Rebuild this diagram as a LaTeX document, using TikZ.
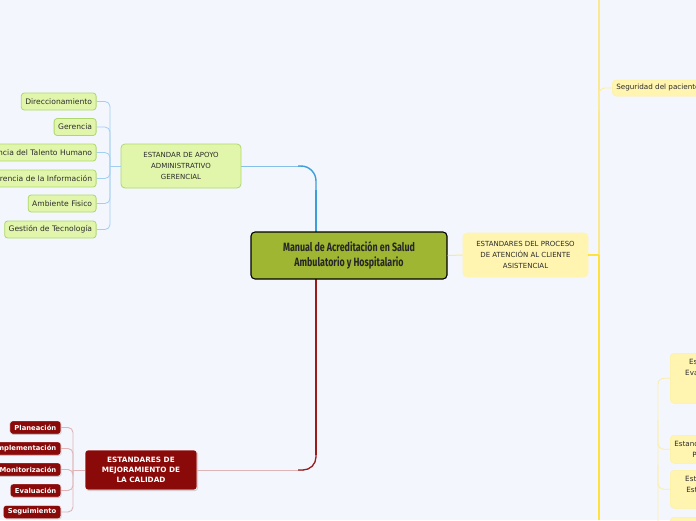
\documentclass[tikz,border=0pt]{standalone}
\usepackage{fontspec}
\setmainfont{DejaVu Sans}
\newfontfamily\condfont[FakeStretch=0.74]{Fira Sans}
\usetikzlibrary{shadows}
\definecolor{bgc}{HTML}{F3F6FD}
\definecolor{gfill}{HTML}{E1F6AB}
\definecolor{gdraw}{HTML}{AED76E}
\definecolor{cfill}{HTML}{9EB631}
\definecolor{bluec}{HTML}{3B9DDB}
\definecolor{bluel}{HTML}{A3CFEF}
\definecolor{yfill}{HTML}{FFF5B1}
\definecolor{yline}{HTML}{FFE23C}
\definecolor{ypale}{HTML}{FBE98F}
\definecolor{ylight}{HTML}{FCEEA8}
\definecolor{rfill}{HTML}{8A0A0A}
\definecolor{rline}{HTML}{9B1B1B}
\definecolor{pink}{HTML}{DFB4B7}
\definecolor{txt}{HTML}{2B2B2B}
\tikzset{
  centerbox/.style={draw=black, line width=1.1pt, fill=cfill, rounded corners=4pt,
    minimum width=196pt, minimum height=47pt, inner sep=0pt, align=center,
    font=\condfont\bfseries\fontsize{12}{15}\selectfont, text=black!85},
  gbranch/.style={draw=gdraw, line width=0.8pt, fill=gfill, rounded corners=4pt,
    minimum width=120pt, minimum height=44pt, inner sep=0pt, align=center,
    font=\fontsize{7}{11}\selectfont, text=txt},
  gchild/.style={draw=gdraw, line width=0.8pt, fill=gfill, rounded corners=3pt,
    minimum height=17pt, inner xsep=4pt, inner ysep=0pt, anchor=east,
    font=\fontsize{7.6}{9}\selectfont, text=txt},
  ybranch/.style={draw=yfill, line width=0.6pt, fill=yfill, rounded corners=4pt,
    minimum width=125pt, minimum height=44pt, inner sep=0pt, align=center,
    font=\fontsize{7}{11}\selectfont, text=txt},
  ychild/.style={draw=yfill!80!yline, line width=0.5pt, fill=yfill, rounded corners=4pt,
    inner xsep=4pt, inner ysep=0pt, align=center,
    font=\fontsize{7.2}{11}\selectfont, text=txt},
  rbranch/.style={draw=white, line width=0.6pt, fill=rfill, rounded corners=3pt,
    minimum width=112pt, minimum height=40pt, inner sep=0pt, align=center,
    font=\bfseries\fontsize{7.3}{10}\selectfont, text=white,
    drop shadow={shadow xshift=1pt, shadow yshift=-1pt, fill=black!35}},
  rchild/.style={draw=white, line width=0.4pt, fill=rfill, rounded corners=2.5pt,
    minimum height=13pt, inner xsep=4.5pt, inner ysep=0pt, anchor=east,
    font=\bfseries\fontsize{6.8}{8}\selectfont, text=white,
    drop shadow={shadow xshift=0.8pt, shadow yshift=-0.8pt, fill=black!30}},
  bthin/.style={draw=bluel, line width=0.8pt, rounded corners=5pt},
  pthin/.style={draw=pink, line width=0.9pt, rounded corners=5pt},
  ythin/.style={draw=ylight, line width=0.9pt, rounded corners=6pt},
}
\begin{document}
\begin{tikzpicture}[x=1pt,y=-1pt]
\useasboundingbox (0,0) rectangle (696,520);
\clip (0,0) rectangle (696,520);
\fill[bgc] (0,0) rectangle (696,520);

% coordinates
\coordinate (ctop) at (316,232);
\coordinate (cbot) at (316,279);
\coordinate (gbus) at (110,166);
\coordinate (rbus) at (73,470);
\coordinate (ybus) at (599,255);
\coordinate (ytop) at (599,0);
\coordinate (yend) at (599,520);
\coordinate (send) at (658,525);

% yellow main bus
\draw[ypale, line width=1.5pt] (ytop) -- (ybus);
\draw[yline, line width=2.4pt] (ybus) -- (yend);

% blue connector
\draw[bluel!70!bluec, line width=1pt] (241,166) -- (304,166);
\draw[bluec, line width=1.4pt, rounded corners=15pt] (298,166) -| (316,205);
\draw[bluec, line width=2.3pt] (316,190) -- (ctop);

% red connector
\draw[pink, line width=1pt] (197,470) -- (304,470);
\draw[rline, line width=1.3pt, rounded corners=13pt] (298,470) -| (316,440);
\draw[rline, line width=2.2pt] (316,455) -- (cbot);

% central node
\node[centerbox] (c) at (349,255.5) {Manual de Acreditación en Salud\\Ambulatorio y Hospitalario};

% green branch
\node[gbranch] (g) at (181,166) {ESTANDAR DE APOYO\\ADMINISTRATIVO\\GERENCIAL};
\node[gchild] (g1) at (96.5,101.5) {Direccionamiento};
\node[gchild] (g2) at (96.5,127) {Gerencia};
\node[gchild] (g3) at (96.5,152.5) {Gerencia del Talento Humano};
\node[gchild] (g4) at (96.5,178.5) {Gerencia de la Información};
\node[gchild] (g5) at (96.5,203.5) {Ambiente Fisico};
\node[gchild] (g6) at (96.5,229.5) {Gestión de Tecnología};
\draw[bthin] (g.west) -- (gbus);
\foreach \k in {1,...,6} { \draw[bthin] (gbus) |- (g\k.east); }

% red branch
\node[rbranch] (r) at (141,470) {ESTANDARES DE\\MEJORAMIENTO DE\\LA CALIDAD};
\node[rchild] (r1) at (61,427.5) {Planeación};
\node[rchild] (r2) at (61,448.5) {Implementación};
\node[rchild] (r3) at (61,469.5) {Monitorización};
\node[rchild] (r4) at (61,490.5) {Evaluación};
\node[rchild] (r5) at (61,512) {Seguimiento};
\draw[pthin] (r.west) -- (rbus);
\foreach \k in {1,...,5} { \draw[pthin] (rbus) |- (r\k.east); }

% yellow branch
\node[ybranch] (y) at (525.5,255) {ESTANDARES DEL PROCESO\\DE ATENCIÓN AL CLIENTE\\ASISTENCIAL};
\draw[ypale, line width=1pt] (c.east) -- (y.west);
\draw[yline, line width=2.4pt] (y.east) -- (ybus);

\node[ychild, anchor=west, minimum height=16pt] (s) at (612,88) {Seguridad del paciente};
\draw[ythin] (599,110) |- (s.west);

\node[ychild, anchor=north west, minimum width=140pt, minimum height=50pt] (n1) at (670,353)
  {Estándares del Proceso para\\Evaluación de las necesidades\\al ingreso\\ };
\node[ychild, anchor=north west, minimum width=130pt, minimum height=28pt] (n2) at (670,435)
  {Estandares del Proceso de Atención\\Planeación de la atención};
\node[ychild, anchor=north west, minimum width=140pt, minimum height=38pt] (n3) at (670,470)
  {Estándares de la Ejecución del\\Estrategias de tratamiento de\\ };
\node[ychild, anchor=north west, minimum width=140pt, minimum height=30pt] (n4) at (670,517)
  {Estándares de\\Salida};
\draw[ythin] (n1.west) -| (send);
\draw[ythin] (658,420) |- (n2.west);
\draw[ythin] (658,465) |- (n3.west);
\end{tikzpicture}
\end{document}
